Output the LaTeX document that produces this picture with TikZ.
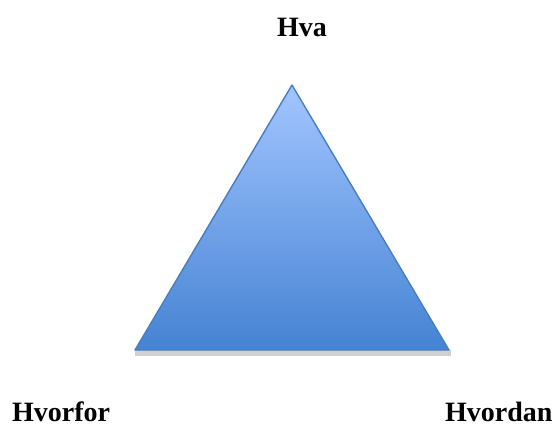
\documentclass[tikz,border=0pt]{standalone}
\usepackage{fontspec}
\setmainfont{Liberation Serif}
\begin{document}
\begin{tikzpicture}[x=1pt,y=1pt]
\useasboundingbox (0,0) rectangle (558,424);
\definecolor{topblue}{HTML}{A2C5FF}
\definecolor{bottomblue}{HTML}{4583D3}
\definecolor{edgeblue}{HTML}{4A7EBB}
\definecolor{shadowgray}{HTML}{D0D0D0}
\coordinate (apex) at (292,339);
\coordinate (baseleft) at (135,74);
\coordinate (baseright) at (449,74);
\fill [shadowgray] (135,68.5) rectangle (451,74);
\shade [top color = topblue, bottom color = bottomblue] (apex) -- (baseleft) -- (baseright) -- cycle;
\draw [color = edgeblue, line width = 1.4, line join = round] (apex) -- (baseleft) -- (baseright) -- cycle;
\tikzset{lbl/.style = {inner sep = 0, font = \fontsize{28}{34}\selectfont\bfseries}}
\node [lbl, anchor = base] (hva) at (302,387) {Hva};
\node [lbl, anchor = base west] (hvorfor) at (12,2.5) {Hvorfor};
\node [lbl, anchor = base west] (hvordan) at (445,3) {Hvordan};
\end{tikzpicture}
\end{document}
